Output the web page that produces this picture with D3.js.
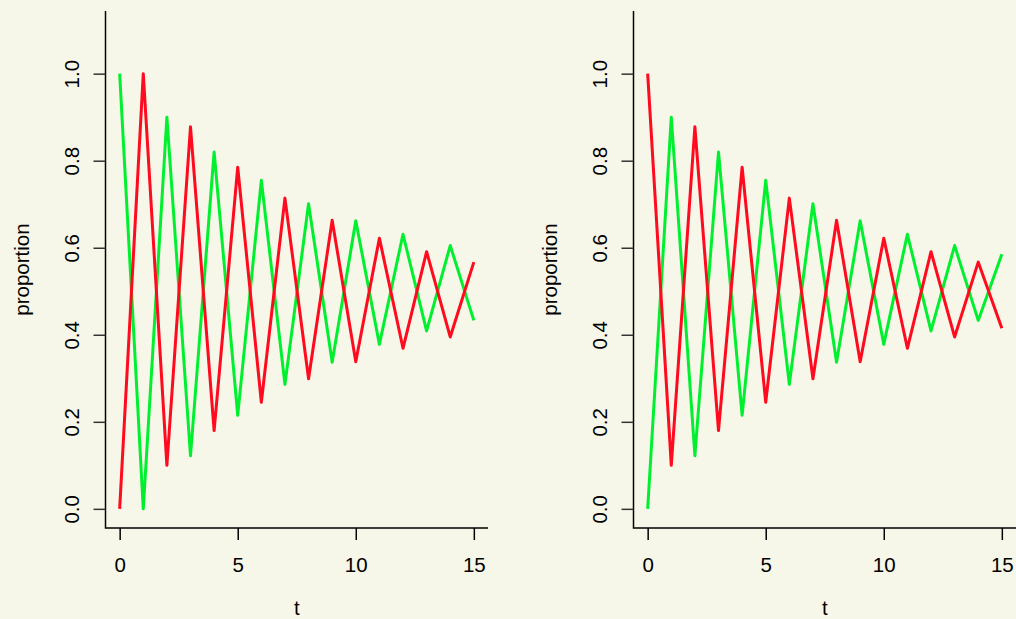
<!DOCTYPE html>
<html>
<head>
<meta charset="utf-8">
<script src="https://cdn.jsdelivr.net/npm/d3@7"></script>
<style>
html, body { margin: 0; padding: 0; background: #F7F7E9; }
svg { display: block; }
text { font-family: "Liberation Sans", Arial, Helvetica, sans-serif; fill: #000; }
</style>
</head>
<body>
<svg id="chart" width="1016" height="619"></svg>
<script>
// ---- data ----
const t = [0,1,2,3,4,5,6,7,8,9,10,11,12,13,14,15];
const leftGreen = [1.0, 0.0, 0.9, 0.122, 0.82, 0.215, 0.755, 0.286, 0.701, 0.337, 0.662, 0.378, 0.631, 0.409, 0.605, 0.433];
const leftRed   = [0.0, 1.0, 0.1, 0.878, 0.18, 0.785, 0.245, 0.714, 0.299, 0.663, 0.338, 0.622, 0.369, 0.591, 0.395, 0.567];
const rightRed   = [1.0, 0.1, 0.878, 0.18, 0.785, 0.245, 0.714, 0.299, 0.663, 0.338, 0.622, 0.369, 0.591, 0.395, 0.567, 0.415];
const rightGreen = [0.0, 0.9, 0.122, 0.82, 0.215, 0.755, 0.286, 0.701, 0.337, 0.662, 0.378, 0.631, 0.409, 0.605, 0.433, 0.585];
const xTicks = [0, 5, 10, 15];
const yTicks = [0.0, 0.2, 0.4, 0.6, 0.8, 1.0];
const xLabel = "t";
const yLabel = "proportion";
const colGreen = "#00F030";
const colRed = "#FF0A1E";

const svg = d3.select("#chart");
const panels = [
  { offset: 0,   series: [{v: leftGreen, c: colGreen}, {v: leftRed, c: colRed}] },
  { offset: 528, series: [{v: rightGreen, c: colGreen}, {v: rightRed, c: colRed}] }
];

panels.forEach(p => {
  const g = svg.append("g").attr("transform", `translate(${p.offset},0)`);
  const left = 105.5, right = 488, top = 11, bottom = 528;
  const x = d3.scaleLinear().domain([-0.6, 15.6]).range([left, right]);
  const y = d3.scaleLinear().domain([-0.044, 1.144]).range([bottom, top]);

  // L-shaped box
  g.append("path")
    .attr("d", `M${left},${top}V${bottom}H${right}`)
    .attr("fill", "none").attr("stroke", "#000").attr("stroke-width", 1.5);

  // x axis ticks
  const xa = g.append("g").attr("transform", `translate(0,${bottom})`)
    .call(d3.axisBottom(x).tickValues(xTicks).tickSize(12).tickPadding(0).tickFormat(d3.format("d")));
  xa.select(".domain").remove();
  xa.selectAll(".tick line").attr("stroke", "#000").attr("stroke-width", 1.5);
  xa.selectAll(".tick text").attr("y", 43.5).attr("dy", null)
    .style("font-size", "20.5px").attr("fill", "#000");

  // y axis ticks
  const ya = g.append("g").attr("transform", `translate(${left},0)`)
    .call(d3.axisLeft(y).tickValues(yTicks).tickSize(12).tickPadding(0).tickFormat(d3.format(".1f")));
  ya.select(".domain").remove();
  ya.selectAll(".tick line").attr("stroke", "#333").attr("stroke-width", 1.5);
  ya.selectAll(".tick text")
    .attr("x", null).attr("dy", null)
    .attr("text-anchor", "middle")
    .attr("transform", "translate(-26.2,0) rotate(-90)")
    .style("font-size", "20.5px").attr("fill", "#000");

  // axis titles
  g.append("text")
    .attr("x", (left + right) / 2).attr("y", 615)
    .attr("text-anchor", "middle").style("font-size", "20.5px")
    .text(xLabel);
  g.append("text")
    .attr("transform", `translate(29,${(top + bottom) / 2}) rotate(-90)`)
    .attr("text-anchor", "middle").style("font-size", "20.5px")
    .text(yLabel);

  const line = d3.line().x((d, i) => x(t[i])).y(d => y(d));
  p.series.forEach(s => {
    g.append("path").datum(s.v)
      .attr("d", line)
      .attr("fill", "none")
      .attr("stroke", s.c)
      .attr("stroke-width", 3)
      .attr("stroke-linejoin", "round")
      .attr("stroke-linecap", "butt");
  });
});
</script>
</body>
</html>
